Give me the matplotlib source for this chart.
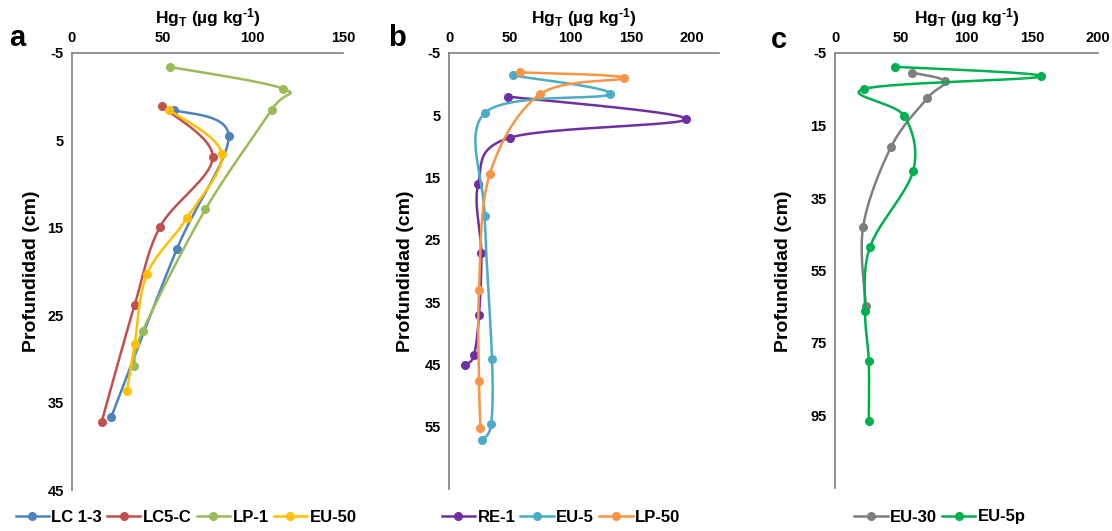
import numpy as np
import matplotlib
matplotlib.use("Agg")
import matplotlib.pyplot as plt
from matplotlib.lines import Line2D

plt.rcParams['font.family'] = ['Liberation Sans', 'DejaVu Sans']
plt.rcParams['font.weight'] = 'bold'
plt.rcParams['axes.unicode_minus'] = False
plt.rcParams['mathtext.fontset'] = 'custom'
plt.rcParams['mathtext.rm'] = 'Liberation Sans:bold'
plt.rcParams['mathtext.default'] = 'rm'

# panel a
lc13_hg = [56.4, 86.7, 58.1, 21.8]
lc13_z = [1.5, 4.5, 17.4, 36.6]
lc5c_hg = [49.8, 77.9, 48.7, 34.7, 16.4]
lc5c_z = [1.1, 6.9, 14.9, 23.8, 37.2]
lp1_hg = [54.4, 117.0, 110.5, 73.8, 39.1, 34.5]
lp1_z = [-3.4, -0.9, 1.5, 12.9, 26.8, 30.8]
eu50_hg = [53.7, 82.8, 63.5, 41.5, 34.7, 30.4]
eu50_z = [1.5, 6.5, 13.9, 20.3, 28.3, 33.7]

# panel b
re1_hg = [48.5, 194.7, 49.9, 23.9, 26.6, 24.7, 20.6, 13.4]
re1_z = [2.0, 5.6, 8.6, 16.1, 27.1, 37.0, 43.5, 45.1]
eu5_hg = [52.7, 132.2, 29.6, 29.3, 35.4, 34.6, 27.2]
eu5_z = [-1.4, 1.6, 4.6, 21.1, 44.2, 54.6, 57.1]
lp50_hg = [58.7, 143.7, 74.9, 33.4, 24.7, 24.7, 25.8]
lp50_z = [-1.9, -1.0, 1.6, 14.5, 33.1, 47.6, 55.2]

# panel c
eu30_hg = [58.6, 83.5, 70.1, 42.8, 21.4, 23.4]
eu30_z = [0.4, 2.8, 7.5, 20.8, 42.9, 64.7]
eu5p_hg = [45.9, 157.0, 22.2, 52.7, 59.4, 26.7, 22.9, 25.7, 25.7]
eu5p_z = [-1.2, 1.45, 4.9, 12.4, 27.6, 48.4, 66.2, 80.1, 96.6]

W, H = 1112, 531
fig = plt.figure(figsize=(W / 100, H / 100), dpi=100)


def box(l, r, t, b):
    return [l / W, 1 - b / H, (r - l) / W, (b - t) / H]


panels = [
    dict(pos=box(72, 343, 53, 490), xlim=(0, 150), xt=[0, 50, 100, 150],
         ylim=(-5, 45), yt=np.arange(-5, 46, 10), letter='a', lx=17, ly=38,
         ylx=32, legx=186,
         series=[('LC 1-3', lc13_hg, lc13_z, '#4F81BD'),
                 ('LC5-C', lc5c_hg, lc5c_z, '#C0504D'),
                 ('LP-1', lp1_hg, lp1_z, '#9BBB59'),
                 ('EU-50', eu50_hg, eu50_z, '#FFC000')]),
    dict(pos=box(449, 719, 53, 489), xlim=(0, 222), xt=[0, 50, 100, 150, 200],
         ylim=(-5, 65), yt=np.arange(-5, 56, 10), letter='b', lx=397, ly=38,
         ylx=405, legx=561,
         series=[('RE-1', re1_hg, re1_z, '#7030A0'),
                 ('EU-5', eu5_hg, eu5_z, '#4BACC6'),
                 ('LP-50', lp50_hg, lp50_z, '#F79646')]),
    dict(pos=box(835, 1098, 53, 488), xlim=(0, 200), xt=[0, 50, 100, 150, 200],
         ylim=(-5, 115), yt=np.arange(-5, 96, 20), letter='c', lx=779, ly=40,
         ylx=783, legx=940,
         series=[('EU-30', eu30_hg, eu30_z, '#7F7F7F'),
                 ('EU-5p', eu5p_hg, eu5p_z, '#00B050')]),
]


def smooth(ax, x, y, n=30):
    # Excel-like smoothed line: Catmull-Rom bezier in screen space
    p = ax.transData.transform(np.column_stack([x, y]))
    pts = np.vstack([p[0], p, p[-1]])
    out = []
    t = np.linspace(0, 1, n)[:, None]
    for i in range(1, len(pts) - 2):
        p0, p1, p2, p3 = pts[i - 1], pts[i], pts[i + 1], pts[i + 2]
        c1 = p1 + (p2 - p0) / 6
        c2 = p2 - (p3 - p1) / 6
        seg = ((1 - t) ** 3) * p1 + 3 * ((1 - t) ** 2) * t * c1 \
            + 3 * (1 - t) * t ** 2 * c2 + t ** 3 * p2
        out.append(seg)
    c = np.vstack(out)
    d = ax.transData.inverted().transform(c)
    return d[:, 0], d[:, 1]


for pn in panels:
    ax = fig.add_axes(pn['pos'])
    ax.set_xlim(*pn['xlim'])
    ax.set_ylim(pn['ylim'][1], pn['ylim'][0])
    ax.xaxis.tick_top()
    ax.set_xticks(pn['xt'])
    ax.set_yticks(pn['yt'])
    ax.tick_params(length=0, labelsize=10.5, pad=6)
    for s in ['right', 'bottom']:
        ax.spines[s].set_visible(False)
    for s in ['top', 'left']:
        ax.spines[s].set_color('#808080')
        ax.spines[s].set_linewidth(1.2)
    for lab in ax.get_xticklabels() + ax.get_yticklabels():
        lab.set_fontweight('bold')
    handles = []
    for name, xs, zs, col in pn['series']:
        sx, sy = smooth(ax, xs, zs)
        ax.plot(sx, sy, color=col, lw=1.8, clip_on=False)
        ax.plot(xs, zs, 'o', color=col, ms=5.5, clip_on=False)
        handles.append(Line2D([], [], color=col, lw=1.8, marker='o', ms=5.5))
    ax.set_title(r'Hg$_{T}$ (µg kg$^{\text{-1}}$)', fontsize=12.5,
                 fontweight='bold', pad=21)
    fig.text(pn['lx'] / W, 1 - pn['ly'] / H, pn['letter'], fontsize=21,
             fontweight='bold', ha='center', va='center')
    fig.text(pn['ylx'] / W, 1 - 271 / H, 'Profundidad (cm)', fontsize=14,
             fontweight='bold', rotation=90, ha='center', va='center')
    fig.legend(handles=handles, labels=[s[0] for s in pn['series']],
               loc='center', bbox_to_anchor=(pn['legx'] / W, 1 - 517 / H),
               ncol=len(handles), frameon=False,
               handlelength=2.0, handletextpad=0.15, columnspacing=0.3,
               prop={'weight': 'bold', 'size': 12})

fig.savefig('out.png', dpi=100)
